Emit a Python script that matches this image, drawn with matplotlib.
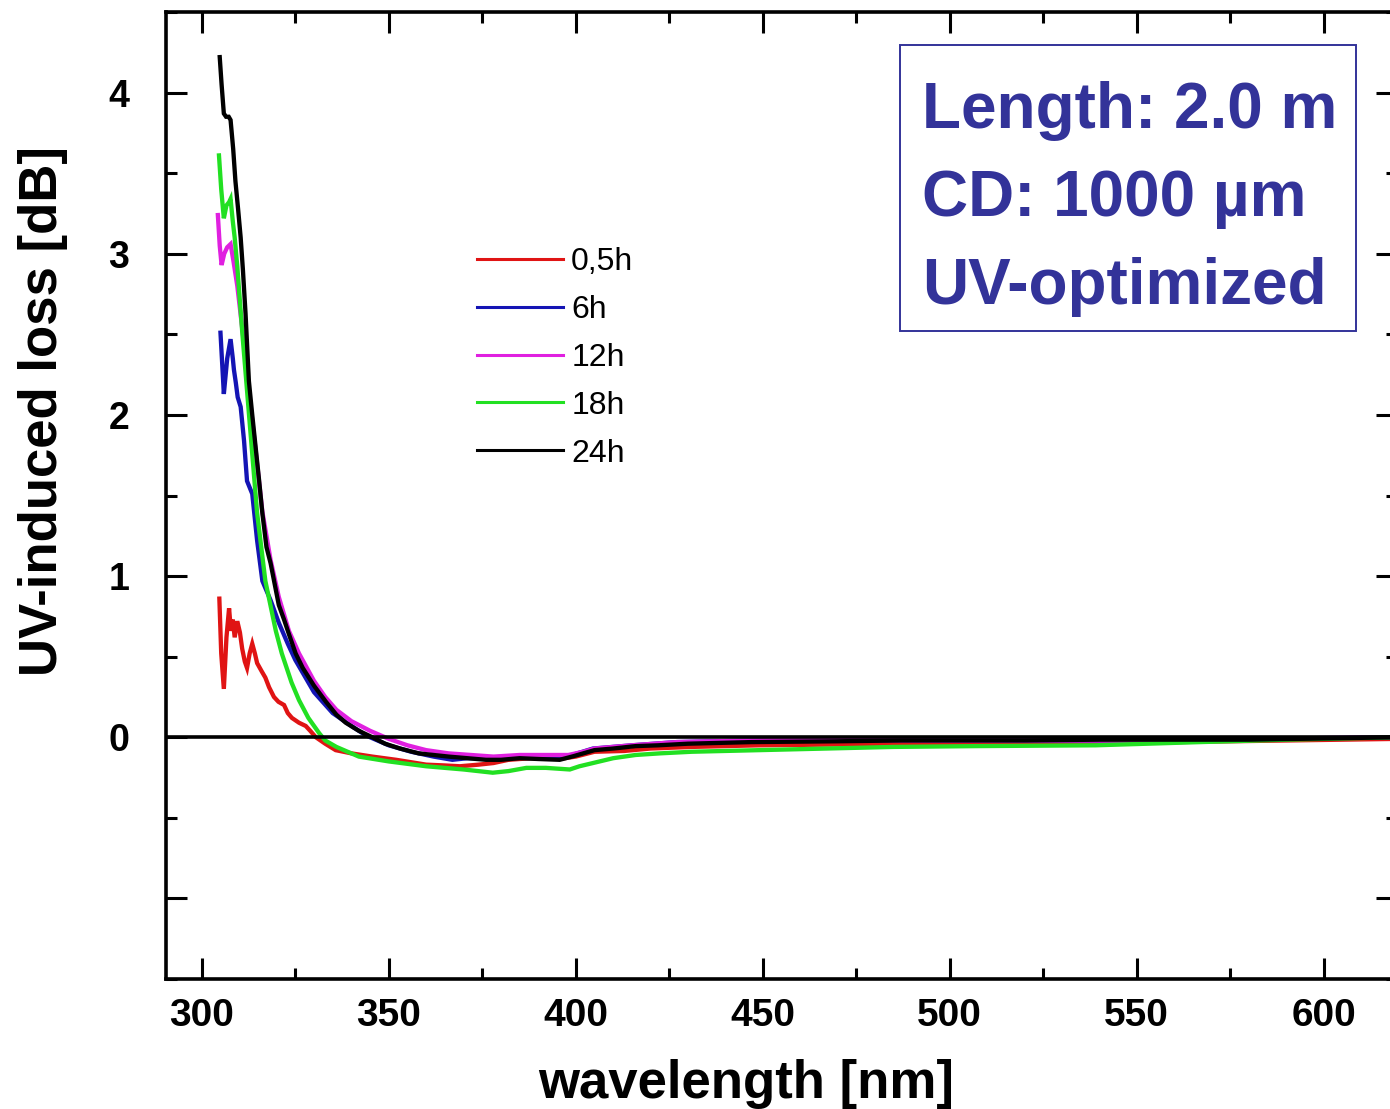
import matplotlib.pyplot as plt
import matplotlib.ticker as ticker
from matplotlib.lines import Line2D
from matplotlib.patches import Rectangle

plt.rcParams['font.family'] = ['Liberation Sans', 'DejaVu Sans']

# UV-induced loss spectra after different irradiation times
wl_05h = [304.7, 305.2, 305.9, 306.6, 307.3, 307.8, 308.3, 308.8, 309.5, 310.2,
          310.8, 311.5, 312.1, 312.8, 313.5, 314.2, 314.8, 316.0, 317.0, 318.0,
          319.3, 320.5, 322.0, 323.0, 324.1, 326.0, 327.8, 329.0, 330.5, 333.0,
          335.8, 340.0, 345.6, 352.0, 360.0, 365.0, 369.0, 374.0, 378.0, 382.0,
          388.0, 393.0, 397.0, 400.0, 405.0, 413.0, 420.0, 431.0, 449.0, 470.0,
          500.0, 530.0, 560.0, 590.0, 620.0]
loss_05h = [0.86, 0.52, 0.30, 0.62, 0.80, 0.66, 0.73, 0.62, 0.72, 0.65,
            0.55, 0.47, 0.43, 0.52, 0.58, 0.52, 0.46, 0.41, 0.37, 0.31,
            0.25, 0.22, 0.20, 0.15, 0.12, 0.09, 0.07, 0.04, 0.00, -0.04,
            -0.08, -0.10, -0.12, -0.14, -0.17, -0.175, -0.18, -0.17, -0.16, -0.14,
            -0.13, -0.13, -0.13, -0.12, -0.09, -0.085, -0.07, -0.06, -0.05, -0.045,
            -0.04, -0.035, -0.03, -0.02, -0.01]

wl_6h = [305.0, 305.5, 305.9, 306.8, 307.7, 308.3, 308.6, 309.1, 309.6, 310.4,
         311.3, 312.1, 313.5, 314.8, 316.2, 318.4, 320.6, 323.0, 325.0, 330.0,
         335.0, 340.0, 344.0, 350.0, 356.0, 362.0, 367.0, 371.0, 376.0, 382.0,
         390.0, 396.0, 399.0, 404.6, 415.0, 427.0, 458.0, 500.0, 556.0, 580.0,
         620.0]
loss_6h = [2.51, 2.30, 2.13, 2.35, 2.47, 2.35, 2.28, 2.20, 2.11, 2.05,
           1.84, 1.59, 1.51, 1.22, 0.97, 0.85, 0.71, 0.58, 0.48, 0.28,
           0.15, 0.07, 0.01, -0.05, -0.09, -0.12, -0.14, -0.13, -0.13, -0.12,
           -0.12, -0.12, -0.11, -0.07, -0.05, -0.03, -0.015, -0.02, -0.02, -0.01,
           0.0]

wl_12h = [304.3, 304.8, 305.3, 306.0, 306.8, 307.7, 308.5, 309.5, 311.0, 312.6,
          314.4, 316.2, 318.4, 320.6, 323.3, 326.0, 330.0, 333.0, 336.0, 340.0,
          345.0, 350.0, 355.0, 360.0, 366.0, 372.0, 378.0, 385.0, 393.0, 398.0,
          402.0, 405.0, 415.0, 427.0, 458.0, 500.0, 556.0, 580.0, 620.0]
loss_12h = [3.24, 3.05, 2.93, 3.00, 3.04, 3.06, 2.95, 2.80, 2.50, 2.15,
            1.78, 1.40, 1.10, 0.87, 0.66, 0.52, 0.35, 0.25, 0.17, 0.10,
            0.04, -0.01, -0.05, -0.08, -0.10, -0.11, -0.12, -0.11, -0.11, -0.11,
            -0.09, -0.07, -0.05, -0.03, -0.015, -0.02, -0.02, -0.01, 0.0]

wl_18h = [304.6, 305.2, 305.9, 306.6, 307.3, 307.7, 308.3, 308.8, 309.5, 310.8,
          312.6, 314.8, 317.0, 319.8, 321.4, 324.0, 326.0, 328.5, 331.4, 333.0,
          336.0, 342.0, 350.0, 360.0, 370.0, 377.8, 382.0, 386.8, 392.0, 398.4,
          401.0, 404.6, 410.0, 416.0, 422.5, 431.0, 449.0, 467.0, 485.0, 507.0,
          539.0, 567.0, 590.0, 620.0]
loss_18h = [3.61, 3.40, 3.22, 3.30, 3.32, 3.34, 3.20, 3.10, 2.92, 2.52,
            2.01, 1.39, 0.97, 0.66, 0.52, 0.34, 0.23, 0.12, 0.025, -0.02,
            -0.06, -0.12, -0.15, -0.18, -0.20, -0.22, -0.21, -0.19, -0.19, -0.20,
            -0.18, -0.16, -0.13, -0.11, -0.10, -0.09, -0.08, -0.07, -0.06, -0.055,
            -0.05, -0.03, -0.015, 0.0]

wl_24h = [304.8, 305.3, 305.9, 306.5, 307.2, 307.7, 308.4, 309.0, 309.7, 310.4,
          311.0, 311.7, 312.6, 313.5, 314.4, 315.3, 316.2, 317.3, 318.4, 319.5,
          320.6, 322.0, 323.3, 325.1, 327.0, 330.0, 333.2, 336.0, 338.5, 342.0,
          345.6, 349.0, 353.0, 358.0, 362.0, 366.0, 371.0, 376.0, 380.0, 385.0,
          390.0, 395.7, 399.0, 402.0, 405.0, 410.0, 416.0, 422.0, 430.0, 447.0,
          470.0, 487.0, 520.0, 540.0, 580.0, 620.0]
loss_24h = [4.22, 4.05, 3.87, 3.85, 3.85, 3.83, 3.65, 3.45, 3.28, 3.10,
            2.90, 2.63, 2.21, 2.00, 1.80, 1.60, 1.39, 1.18, 1.08, 0.95,
            0.82, 0.73, 0.64, 0.52, 0.43, 0.32, 0.22, 0.14, 0.09, 0.04,
            0.00, -0.04, -0.07, -0.10, -0.11, -0.12, -0.13, -0.14, -0.14, -0.13,
            -0.135, -0.14, -0.12, -0.10, -0.08, -0.07, -0.055, -0.05, -0.04, -0.03,
            -0.025, -0.02, -0.02, -0.015, -0.015, 0.0]

series = [
    ('0,5h', wl_05h, loss_05h, '#e01414'),
    ('6h', wl_6h, loss_6h, '#1414b4'),
    ('12h', wl_12h, loss_12h, '#e020e0'),
    ('18h', wl_18h, loss_18h, '#22e022'),
    ('24h', wl_24h, loss_24h, 'black'),
]

W, H = 1390, 1109
fig = plt.figure(figsize=(W / 100, H / 100), dpi=100)
ax = fig.add_axes([165.5 / W, 1 - 979 / H, (1397 - 165.5) / W, (979 - 12) / H])

for name, x, y, c in series:
    ax.plot(x, y, color=c, lw=3.1, solid_joinstyle='miter')
ax.axhline(0, color='black', lw=2.6, zorder=3)

ax.set_xlim(290.3, 619.6)
ax.set_ylim(-1.5, 4.5)
ax.xaxis.set_major_locator(ticker.MultipleLocator(50))
ax.xaxis.set_minor_locator(ticker.MultipleLocator(25))
ax.yaxis.set_major_locator(ticker.MultipleLocator(1))
ax.yaxis.set_minor_locator(ticker.MultipleLocator(0.5))
ax.yaxis.set_major_formatter(ticker.FuncFormatter(lambda v, p: '' if v < 0 else '%d' % v))

ax.tick_params(which='both', direction='in', top=True, right=True, width=2.2)
ax.tick_params(which='major', length=15)
ax.tick_params(which='minor', length=8)
ax.tick_params(axis='x', which='major', pad=14)
ax.tick_params(axis='y', which='major', pad=26)
for lab in ax.get_xticklabels():
    lab.set_fontsize(28)
    lab.set_fontweight('bold')
for lab in ax.get_yticklabels():
    lab.set_fontsize(27)
    lab.set_fontweight('bold')
for sp in ax.spines.values():
    sp.set_linewidth(2.6)

fig.text(746 / W, 1 - 1098 / H, 'wavelength [nm]', ha='center', va='baseline',
         fontsize=38, fontweight='bold')
fig.text(43 / W, 1 - 411 / H, 'UV-induced loss [dB]', ha='center', va='center',
         rotation=90, fontsize=38, fontweight='bold')

handles = [Line2D([], [], color=c, lw=2.2) for name, x, y, c in series]
ax.legend(handles, [s[0] for s in series], loc='upper left',
          bbox_to_anchor=(477 / W, 1 - 247 / H), bbox_transform=fig.transFigure,
          frameon=False, fontsize=23, handlelength=2.7, handletextpad=0.25,
          labelspacing=0.56, borderpad=0, borderaxespad=0)

# parameter box in the upper right corner
navy = '#333399'
fig.patches.append(Rectangle((900 / W, 1 - 331 / H), 456 / W, 286 / H,
                             transform=fig.transFigure, fill=False,
                             edgecolor=navy, lw=1.4))
for i, line in enumerate(['Length: 2.0 m', 'CD: 1000 µm', 'UV-optimized']):
    fig.text(922 / W, 1 - (128 + 88 * i) / H, line, ha='left', va='baseline',
             fontsize=46, fontweight='bold', color=navy)

fig.savefig('out.png', dpi=100)
